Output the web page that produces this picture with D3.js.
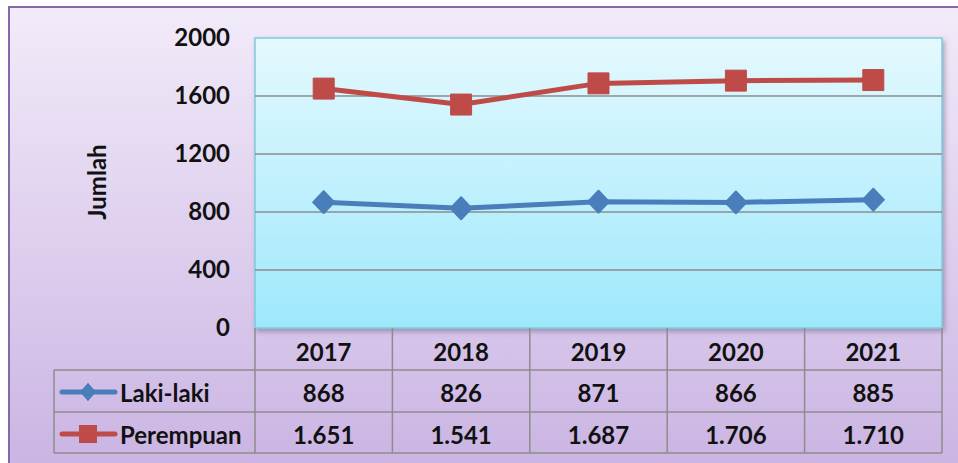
<!DOCTYPE html>
<html>
<head>
<meta charset="utf-8">
<script src="https://cdn.jsdelivr.net/npm/d3@7"></script>
<style>
  body { margin: 0; background: #fff; }
  text { font-family: Lato, "Open Sans", sans-serif; font-weight: bold; fill: #111; }
</style>
</head>
<body>
<div id="chart"></div>
<script>
var width = 958;
var height = 463;

var years = ["2017", "2018", "2019", "2020", "2021"];
var lakiLaki = [868, 826, 871, 866, 885];
var perempuan = [1651, 1541, 1687, 1706, 1710];
var yTicks = [0, 400, 800, 1200, 1600, 2000];

var series = [
  {name: "Laki-laki", values: lakiLaki, color: "#4a7ebb", symbol: d3.symbolDiamond},
  {name: "Perempuan", values: perempuan, color: "#be4b48", symbol: d3.symbolSquare}
];

var plot = {left: 255, right: 942, top: 38, bottom: 328};
var rowH = 42;
var legendLeft = 54;

var idLocale = d3.formatLocale({decimal: ",", thousands: ".", grouping: [3], currency: ["Rp", ""]});
var fmt = idLocale.format(",d");

var x = d3.scaleBand()
  .domain(years)
  .range([plot.left, plot.right]);

var y = d3.scaleLinear()
  .domain([0, 2000])
  .range([plot.bottom, plot.top]);

var svg = d3.select("#chart").append("svg")
  .attr("width", width)
  .attr("height", height);

var defs = svg.append("defs");
var bg = defs.append("linearGradient").attr("id", "bg").attr("x1", 0).attr("y1", 0).attr("x2", 0).attr("y2", 1);
bg.append("stop").attr("offset", "0%").attr("stop-color", "#f2ebf9");
bg.append("stop").attr("offset", "100%").attr("stop-color", "#cab4e3");

var pg = defs.append("linearGradient").attr("id", "pg").attr("x1", 0).attr("y1", 0).attr("x2", 0).attr("y2", 1);
pg.append("stop").attr("offset", "0%").attr("stop-color", "#e4f9fe");
pg.append("stop").attr("offset", "100%").attr("stop-color", "#9ee8fc");

var sh = defs.append("filter").attr("id", "shadow").attr("x", "-5%").attr("y", "-5%").attr("width", "112%").attr("height", "115%");
sh.append("feDropShadow").attr("dx", 2).attr("dy", 3).attr("stdDeviation", 2.5)
  .attr("flood-color", "#6a5a80").attr("flood-opacity", 0.5);

// outer chart area
svg.append("rect")
  .attr("x", 9).attr("y", 7)
  .attr("width", width + 10).attr("height", height)
  .attr("fill", "url(#bg)")
  .attr("stroke", "#8468a8")
  .attr("stroke-width", 2);

// plot area
svg.append("rect")
  .attr("x", plot.left).attr("y", plot.top)
  .attr("width", plot.right - plot.left).attr("height", plot.bottom - plot.top)
  .attr("fill", "url(#pg)")
  .attr("stroke", "#7ccbdc")
  .attr("stroke-width", 1.5)
  .attr("filter", "url(#shadow)");

// gridlines
svg.append("g")
  .selectAll("line")
  .data(yTicks.filter(d => d > 0 && d < 2000))
  .join("line")
    .attr("x1", plot.left).attr("x2", plot.right)
    .attr("y1", d => y(d)).attr("y2", d => y(d))
    .attr("stroke", "#8c8c8c")
    .attr("stroke-width", 1.5);

// y axis
var yAxis = svg.append("g")
  .attr("transform", `translate(${plot.left},0)`)
  .call(d3.axisLeft(y).tickValues(yTicks).tickFormat(d3.format("d")).tickSize(0).tickPadding(25));
yAxis.select(".domain").remove();
yAxis.selectAll("text")
  .attr("font-size", 24)
  .attr("font-family", "Lato, sans-serif")
  .attr("font-weight", "bold")
  .attr("fill", "#111");

svg.append("text")
  .attr("transform", "translate(96,182) rotate(-90)")
  .attr("text-anchor", "middle")
  .attr("dominant-baseline", "central")
  .attr("font-size", 24)
  .text("Jumlah");

// lines and markers
var line = d3.line()
  .x((d, i) => x(years[i]) + x.bandwidth() / 2)
  .y(d => y(d));

series.forEach(function(s) {
  svg.append("path")
    .datum(s.values)
    .attr("fill", "none")
    .attr("stroke", s.color)
    .attr("stroke-width", 5)
    .attr("stroke-linejoin", "round")
    .attr("d", line);

  var isDiamond = s.symbol === d3.symbolDiamond;
  var sym = d3.symbol().type(s.symbol).size(isDiamond ? 150 : 440);
  svg.append("g")
    .selectAll("path")
    .data(s.values)
    .join("path")
      .attr("transform", (d, i) => `translate(${x(years[i]) + x.bandwidth() / 2},${y(d)})` + (isDiamond ? " scale(1.65,1)" : ""))
      .attr("d", sym())
      .attr("fill", s.color)
      .attr("stroke", s.color)
      .attr("stroke-width", 1)
      .attr("stroke-linejoin", "round");
});

// data table
var table = svg.append("g");
var tableBottom = plot.bottom + rowH * 3 - 1;
var rowTops = [plot.bottom, plot.bottom + rowH, plot.bottom + rowH * 2];

var edges = years.map(d => x(d)).concat([plot.right]);
table.selectAll("line.v")
  .data(edges)
  .join("line")
    .attr("x1", d => d).attr("x2", d => d)
    .attr("y1", plot.bottom).attr("y2", tableBottom)
    .attr("stroke", "#8c8c8c").attr("stroke-width", 1.5);

table.append("line")
  .attr("x1", legendLeft).attr("x2", legendLeft)
  .attr("y1", rowTops[1]).attr("y2", tableBottom)
  .attr("stroke", "#8c8c8c").attr("stroke-width", 1.5);

table.selectAll("line.h")
  .data([rowTops[1], rowTops[2], tableBottom])
  .join("line")
    .attr("x1", legendLeft).attr("x2", plot.right)
    .attr("y1", d => d).attr("y2", d => d)
    .attr("stroke", "#8c8c8c").attr("stroke-width", 1.5);

table.selectAll("text.year")
  .data(years)
  .join("text")
    .attr("x", d => x(d) + x.bandwidth() / 2)
    .attr("y", rowTops[0] + rowH / 2 + 2)
    .attr("text-anchor", "middle")
    .attr("dominant-baseline", "central")
    .attr("font-size", 24)
    .text(d => d);

series.forEach(function(s, r) {
  var cy = rowTops[r + 1] + rowH / 2 + 1;
  table.selectAll(null)
    .data(s.values)
    .join("text")
      .attr("x", (d, i) => x(years[i]) + x.bandwidth() / 2)
      .attr("y", cy)
      .attr("text-anchor", "middle")
      .attr("dominant-baseline", "central")
      .attr("font-size", 24)
      .text(d => fmt(d));

  table.append("line")
    .attr("x1", 62).attr("x2", 115)
    .attr("y1", cy).attr("y2", cy)
    .attr("stroke", s.color)
    .attr("stroke-width", 5)
    .attr("stroke-linecap", "round");
  var isDiamond = s.symbol === d3.symbolDiamond;
  var sym = d3.symbol().type(s.symbol).size(isDiamond ? 100 : 324);
  table.append("path")
    .attr("transform", `translate(88,${cy})` + (isDiamond ? " scale(1.5,1)" : ""))
    .attr("d", sym())
    .attr("fill", s.color);

  table.append("text")
    .attr("x", 120)
    .attr("y", cy)
    .attr("dominant-baseline", "central")
    .attr("font-size", 24)
    .text(s.name);
});
</script>
</body>
</html>
